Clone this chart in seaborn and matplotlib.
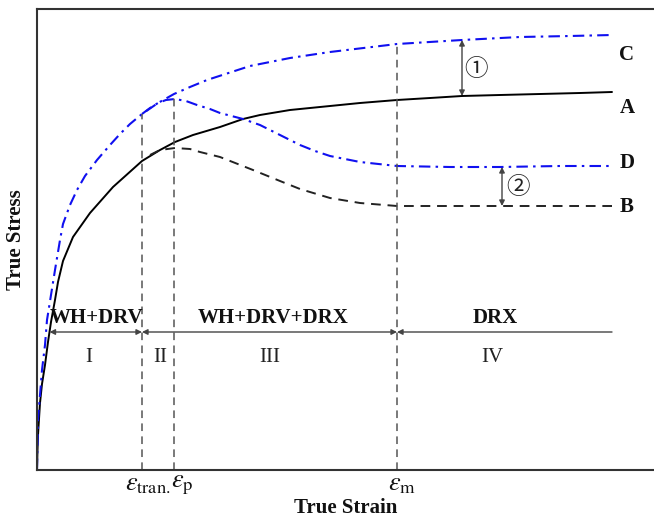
import numpy as np
import pandas as pd
import seaborn as sns
import matplotlib.pyplot as plt

# Curva A: endurecimento + DRV (sem DRX)
strain_a = [0, 0.5, 1, 3, 5, 8, 11, 14, 18, 21, 26, 36, 53, 76, 105, 123, 138, 156, 183,
            206, 223, 253, 293, 323, 360, 393, 425, 463, 503, 543, 575]
stress_a = [0, 20, 35, 67, 86, 105, 128, 148, 170, 188, 209, 233, 257, 283, 309, 320, 328,
            335, 343, 351, 355, 360, 364, 367, 370, 372, 374, 375, 376, 377, 378]

# Curva C: limite superior (tracejado-ponto azul)
strain_c = [0, 1, 3, 5, 8, 10, 14, 18, 20, 23, 26, 33, 40, 48, 60, 73, 83, 93, 105, 121,
            137, 153, 170, 213, 253, 293, 360, 425, 483, 533, 575]
stress_c = [0, 50, 75, 100, 125, 150, 175, 200, 212, 230, 246, 265, 280, 294, 310, 325, 336,
            346, 356, 367, 376, 383, 390, 404, 412, 418, 426, 430, 433, 434, 435]

# Curva D: com DRX (azul)
strain_d = [105, 113, 121, 129, 138, 149, 160, 173, 183, 206, 223, 243, 263, 278, 293, 323,
            360, 413, 463, 523, 575]
stress_d = [356, 362, 367, 370, 371, 369, 365, 361, 357, 351, 345, 335, 325, 319, 314, 308,
            304, 303, 303, 304, 304]

# Curva B: com DRX (preta tracejada)
strain_b = [113, 123, 138, 153, 163, 183, 216, 243, 263, 293, 323, 360, 413, 463, 523, 575]
stress_b = [315, 320, 322, 321, 318, 313, 300, 289, 281, 272, 267, 264, 264, 264, 264, 264]

# Deformações características
marcas = [105, 137, 360]
marcas_txt = [r'$\varepsilon_{\mathrm{tran.}}$', r'$\varepsilon_{\mathrm{p}}$', r'$\varepsilon_{\mathrm{m}}$']
marcas_pos = [111, 145, 365]

estagios = ['WH+DRV', 'WH+DRV+DRX', 'DRX']
estagios_x = [60, 236, 458]
numerais = ['I', 'II', 'III', 'IV']
numerais_x = [52, 123, 233, 455]

curvas_txt = ['C', 'A', 'D', 'B']
curvas_y = [415, 362, 307, 263]

sns.set_theme(style='white')
plt.rcParams['font.family'] = ['Liberation Serif', 'DejaVu Serif']
plt.rcParams['mathtext.fontset'] = 'stix'

fig = plt.figure(figsize=(6.54, 5.18), dpi=100)
ax = fig.add_axes([37 / 654, 48 / 518, 617 / 654, 461 / 518])

azul = '#1010f0'
df_a = pd.DataFrame({'strain': strain_a, 'stress': stress_a})
df_b = pd.DataFrame({'strain': strain_b, 'stress': stress_b})
df_c = pd.DataFrame({'strain': strain_c, 'stress': stress_c})
df_d = pd.DataFrame({'strain': strain_d, 'stress': stress_d})

sns.lineplot(data=df_a, x='strain', y='stress', color='black', lw=1.4, ax=ax)
sns.lineplot(data=df_b, x='strain', y='stress', color='#222222', lw=1.4,
             linestyle=(0, (5, 3.5)), ax=ax)
sns.lineplot(data=df_c, x='strain', y='stress', color=azul, lw=1.5,
             linestyle=(0, (5.5, 2.5, 1.2, 2.5)), ax=ax)
sns.lineplot(data=df_d, x='strain', y='stress', color=azul, lw=1.5,
             linestyle=(0, (5.5, 2.5, 1.2, 2.5)), ax=ax)

# Linhas verticais nas deformações características
for m in marcas:
    topo = np.interp(m, strain_c, stress_c)
    ax.plot([m, m], [0, topo], color='#555555', lw=1.1, linestyle=(0, (5, 3.5)))

# Setas entre as curvas
cinza = '#444444'
x1 = 425
ax.annotate('', xy=(x1, np.interp(x1, strain_c, stress_c)), xytext=(x1, np.interp(x1, strain_a, stress_a)),
            arrowprops=dict(arrowstyle='<|-|>', color=cinza, lw=1, shrinkA=0, shrinkB=0, mutation_scale=8))
x2 = 465
ax.annotate('', xy=(x2, np.interp(x2, strain_d, stress_d)), xytext=(x2, np.interp(x2, strain_b, stress_b)),
            arrowprops=dict(arrowstyle='<|-|>', color=cinza, lw=1, shrinkA=0, shrinkB=0, mutation_scale=8))
ax.text(439, 400, '①', family=['Noto Sans CJK SC', 'DejaVu Sans'], fontsize=17, ha='center', va='center', color='#222222')
ax.text(481, 283, '②', family=['Noto Sans CJK SC', 'DejaVu Sans'], fontsize=17, ha='center', va='center', color='#222222')

# Setas dos estágios
y_seta = 138
x_ini = np.interp(y_seta, stress_a, strain_a)
ax.annotate('', xy=(x_ini, y_seta), xytext=(marcas[0], y_seta),
            arrowprops=dict(arrowstyle='<|-|>', color=cinza, lw=1, shrinkA=0, shrinkB=0, mutation_scale=8))
ax.annotate('', xy=(marcas[0], y_seta), xytext=(marcas[2], y_seta),
            arrowprops=dict(arrowstyle='<|-|>', color=cinza, lw=1, shrinkA=0, shrinkB=0, mutation_scale=8))
ax.annotate('', xy=(marcas[2], y_seta), xytext=(575, y_seta),
            arrowprops=dict(arrowstyle='-|>', color=cinza, lw=1, shrinkA=0, shrinkB=0, mutation_scale=8))

for txt, x in zip(estagios, estagios_x):
    ax.text(x, 152, txt, fontsize=15, fontweight='bold', ha='center', va='center', color='#111111')
for txt, x in zip(numerais, numerais_x):
    ax.text(x, 112, txt, fontsize=15, ha='center', va='center', color='#222222')

for txt, y in zip(curvas_txt, curvas_y):
    ax.text(590, y, txt, fontsize=15, fontweight='bold', ha='center', va='center', color='#111111')

for txt, x in zip(marcas_txt, marcas_pos):
    ax.text(x, -4, txt, fontsize=19, ha='center', va='top', color='#111111')

ax.set_xlim(0, 617)
ax.set_ylim(0, 461)
ax.set_xticks([])
ax.set_yticks([])
ax.set_xlabel('True Strain', fontsize=15, fontweight='bold', labelpad=20, color='#111111')
ax.set_ylabel('True Stress', fontsize=15, fontweight='bold', labelpad=8, color='#111111')
for lado in ['left', 'bottom', 'top']:
    ax.spines[lado].set_color('#333333')
    ax.spines[lado].set_linewidth(1.5)
ax.spines['right'].set_visible(False)

plt.savefig('out.png', dpi=100)
